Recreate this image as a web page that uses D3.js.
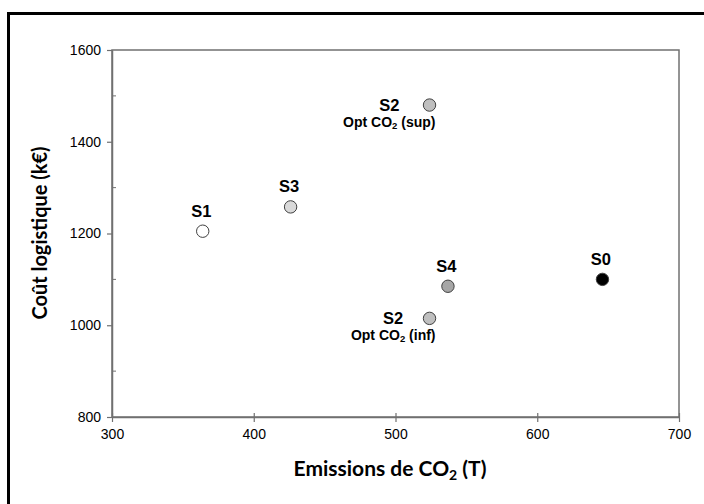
<!DOCTYPE html>
<html><head><meta charset="utf-8">
<script src="https://cdn.jsdelivr.net/npm/d3@7"></script>
<style>body{margin:0;background:#fff}</style>
</head><body>
<script>
const scenarios = ["S0","S1","S2","S2","S3","S4"];
const sublabels = ["","","Opt CO₂ (sup)","Opt CO₂ (inf)","",""];
const emissions = [646, 364, 524, 524, 426, 537];
const costs = [1100, 1205, 1480, 1015, 1258, 1085];
const fills = ["#000000","#ffffff","#bfbfbf","#bfbfbf","#d9d9d9","#a6a6a6"];
const xTicks = [300,400,500,600,700];
const yTicks = [800,1000,1200,1400,1600];
const yMinor = [900,1100,1300,1500];

const W=704,H=504;
const svg=d3.select("body").append("svg").attr("width",W).attr("height",H);
svg.append("rect").attr("x",8.5).attr("y",13.5).attr("width",800).attr("height",600)
  .attr("fill","none").attr("stroke","#000").attr("stroke-width",3);

const x=d3.scaleLinear().domain([300,700]).range([112,679]);
const y=d3.scaleLinear().domain([800,1600]).range([417,50]);

const g=svg.append("g");
g.append("rect").attr("x",112).attr("y",50).attr("width",567).attr("height",367)
  .attr("fill","none").attr("stroke","#707070").attr("stroke-width",1.5);

const fmt=d3.format("d");
const xa=g.append("g").attr("transform","translate(0,417)")
  .call(d3.axisBottom(x).tickValues(xTicks).tickFormat(fmt).tickSize(5).tickSizeOuter(0).tickPadding(7));
const ya=g.append("g").attr("transform","translate(112,0)")
  .call(d3.axisLeft(y).tickValues(yTicks).tickFormat(fmt).tickSize(5).tickSizeOuter(0).tickPadding(6));
[xa,ya].forEach(a=>{
  a.select(".domain").attr("stroke","#707070").attr("stroke-width",1.5);
  a.selectAll(".tick line").attr("stroke","#707070").attr("stroke-width",1.2);
  a.selectAll(".tick text").attr("font-family","Arial, 'Liberation Sans', sans-serif").attr("font-size",14).attr("fill","#000");
});
xa.selectAll(".tick").append("line").attr("y1",0).attr("y2",-4).attr("stroke","#707070").attr("stroke-width",1.2);
g.selectAll(".my").data(yMinor).join("line").attr("x1",112).attr("x2",116)
  .attr("y1",d=>y(d)).attr("y2",d=>y(d)).attr("stroke","#707070");

svg.append("text").attr("x",390).attr("y",476).attr("text-anchor","middle")
  .attr("font-family","Lato, 'Open Sans', sans-serif").attr("font-weight","bold").attr("font-size",21)
  .html('Emissions de CO<tspan font-size="14" dy="4">2</tspan><tspan dy="-4"> (T)</tspan>');
svg.append("text").attr("transform","translate(47,233) rotate(-90)").attr("text-anchor","middle")
  .attr("font-family","Lato, 'Open Sans', sans-serif").attr("font-weight","bold").attr("font-size",20)
  .text("Coût logistique (k€)");

const data=scenarios.map((s,i)=>({s,sub:sublabels[i],x:emissions[i],y:costs[i],f:fills[i]}));
g.selectAll("circle.pt").data(data).join("circle").attr("class","pt")
  .attr("cx",d=>x(d.x)).attr("cy",d=>y(d.y)).attr("r",6.2)
  .attr("fill",d=>d.f).attr("stroke","#404040").attr("stroke-width",1);

const F="Arial, 'Liberation Sans', sans-serif";
data.forEach(d=>{
  const cx=x(d.x), cy=y(d.y);
  if(d.sub){
    const t=g.append("text").attr("x",cx+6).attr("y",cy+22).attr("text-anchor","end")
      .attr("font-family",F).attr("font-weight","bold").attr("font-size",14);
    const parts=d.sub.split("₂");
    t.append("tspan").text(parts[0]);
    t.append("tspan").attr("font-size",9.5).attr("dy",2).text("2");
    t.append("tspan").attr("dy",-2).text(parts[1]);
    const len=t.node().getComputedTextLength();
    g.append("text").attr("x",cx+6-len/2).attr("y",cy+6).attr("text-anchor","middle")
      .attr("font-family",F).attr("font-weight","bold").attr("font-size",16.5).text(d.s);
  } else {
    g.append("text").attr("x",cx-1.5).attr("y",cy-14.5).attr("text-anchor","middle")
      .attr("font-family",F).attr("font-weight","bold").attr("font-size",16.5).text(d.s);
  }
});
</script>
</body></html>
